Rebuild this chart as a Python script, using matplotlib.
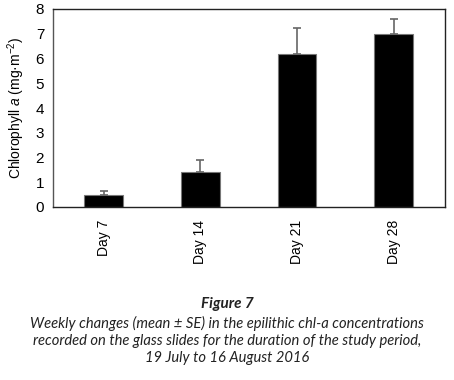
import matplotlib.pyplot as plt
import numpy as np

days = ["Day 7", "Day 14", "Day 21", "Day 28"]
chl_mean = [0.48, 1.43, 6.19, 6.99]
chl_se = [0.18, 0.47, 1.04, 0.59]

plt.rcParams['font.family'] = ['Liberation Sans', 'DejaVu Sans']
plt.rcParams['mathtext.fontset'] = 'custom'
plt.rcParams['mathtext.rm'] = 'Liberation Sans'
plt.rcParams['mathtext.it'] = 'Liberation Sans:italic'

fig = plt.figure(figsize=(4.54, 3.80), dpi=100)
ax = fig.add_axes([52.5 / 454, 1 - 207 / 380, 392.5 / 454, 198 / 380])

x = np.arange(len(days))
ax.bar(x, chl_mean, width=0.4, color="black", edgecolor="#777777", linewidth=0.8,
       yerr=[np.zeros(len(chl_se)), chl_se], ecolor="#666666",
       error_kw=dict(elinewidth=1.2, capsize=3, capthick=1.2))

ax.set_xlim(-0.53, len(days) - 0.47)
ax.set_ylim(0, 8)
ax.set_yticks(range(0, 9))
ax.set_xticks(x)
ax.set_xticklabels(days, rotation=90, fontsize=10)
ax.tick_params(axis="y", labelsize=11, length=0, pad=6)
ax.tick_params(axis="x", length=0, pad=9)
ax.set_ylabel("Chlorophyll $\\mathit{a}$ (mg·m$^{-2}$)", fontsize=10, labelpad=6)
for s in ax.spines.values():
    s.set_color("#222222")
    s.set_linewidth(1.0)
ax.spines["left"].set_color("#555555")

fig.text(0.5, 1 - 304 / 380, "Figure 7", ha="center", va="center",
         fontsize=11, fontweight="bold", style="italic", family="Lato", color="#222222")
caption = ("Weekly changes (mean ± SE) in the epilithic chl-a concentrations\n"
           "recorded on the glass slides for the duration of the study period,\n"
           "19 July to 16 August 2016")
fig.text(0.5, 1 - 340.5 / 380, caption, ha="center", va="center", fontsize=10.6,
         style="italic", family="Lato", color="#222222", linespacing=1.3)

fig.savefig("out.png", dpi=100)
